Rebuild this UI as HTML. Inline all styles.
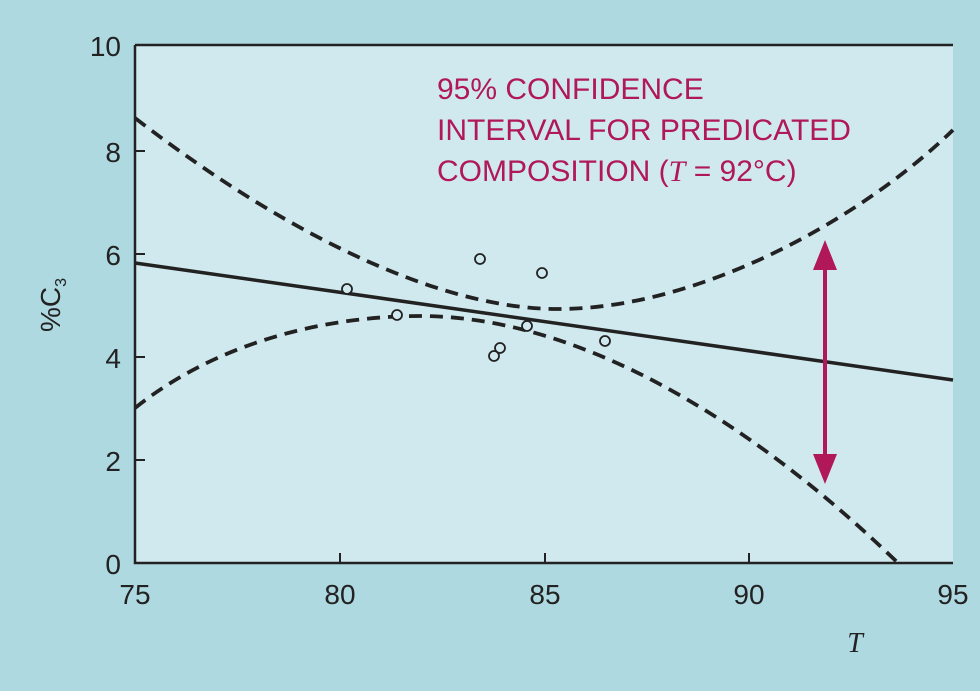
<!DOCTYPE html>
<html><head><style>body{margin:0}svg{display:block}</style></head><body>
<svg width="980" height="691" xmlns="http://www.w3.org/2000/svg" font-family="Liberation Sans, sans-serif">
<rect width="980" height="691" fill="#afd9e1"/>
<rect x="135" y="45" width="818" height="518" fill="#d0e9ef"/>
<path d="M135,45 H953 M135,45 V563 H953" stroke="#222" stroke-width="2.5" fill="none"/>
<g stroke="#222" stroke-width="2">
<path d="M135,151h10M135,254h10M135,357h10M135,460h10"/>
<path d="M340,563v-10M545,563v-10M749,563v-10"/>
</g>
<g font-size="28" fill="#222" text-anchor="end">
<text x="121" y="56">10</text><text x="121" y="162">8</text><text x="121" y="265">6</text><text x="121" y="368">4</text><text x="121" y="471">2</text><text x="121" y="574">0</text>
</g>
<g font-size="28" fill="#222" text-anchor="middle">
<text x="135" y="604">75</text><text x="340" y="604">80</text><text x="545" y="604">85</text><text x="749" y="604">90</text><text x="953" y="604">95</text>
</g>
<text x="855" y="652" font-size="28" font-style="italic" font-family="Liberation Serif, serif" fill="#222" text-anchor="middle">T</text>
<text transform="translate(60,305) rotate(-90)" font-size="28" fill="#222" text-anchor="middle">%C<tspan font-size="16" dy="6">3</tspan></text>
<path d="M135,263 L953,380" stroke="#222" stroke-width="3.5"/>
<g stroke="#222" stroke-width="3.8" fill="none" stroke-dasharray="13,8">
<path d="M135,118 C300,245 450,310 560,309 C700,308 860,220 953,130"/>
<path d="M135,408 C220,340 330,316 420,316 C570,316 740,410 898,563"/>
</g>
<g stroke="#222" stroke-width="1.8" fill="#d0e9ef">
<circle cx="347" cy="289" r="5"/><circle cx="397" cy="315" r="5"/><circle cx="480" cy="259" r="5"/><circle cx="542" cy="273" r="5"/><circle cx="527" cy="326" r="5"/><circle cx="500" cy="348" r="5"/><circle cx="494" cy="356" r="5"/><circle cx="605" cy="341" r="5"/>
</g>
<g fill="#b0185a" stroke="#b0185a">
<path d="M825,262 V462" stroke-width="4"/>
<path d="M825,240 L813,270 L837,270 Z" stroke="none"/>
<path d="M825,484 L813,454 L837,454 Z" stroke="none"/>
</g>
<g font-size="30" fill="#b0185a">
<text x="437" y="99">95% CONFIDENCE</text>
<text x="437" y="140">INTERVAL FOR PREDICATED</text>
<text x="437" y="181">COMPOSITION (<tspan font-style="italic" font-family="Liberation Serif, serif">T</tspan> = 92°C)</text>
</g>
</svg>
</body></html>
